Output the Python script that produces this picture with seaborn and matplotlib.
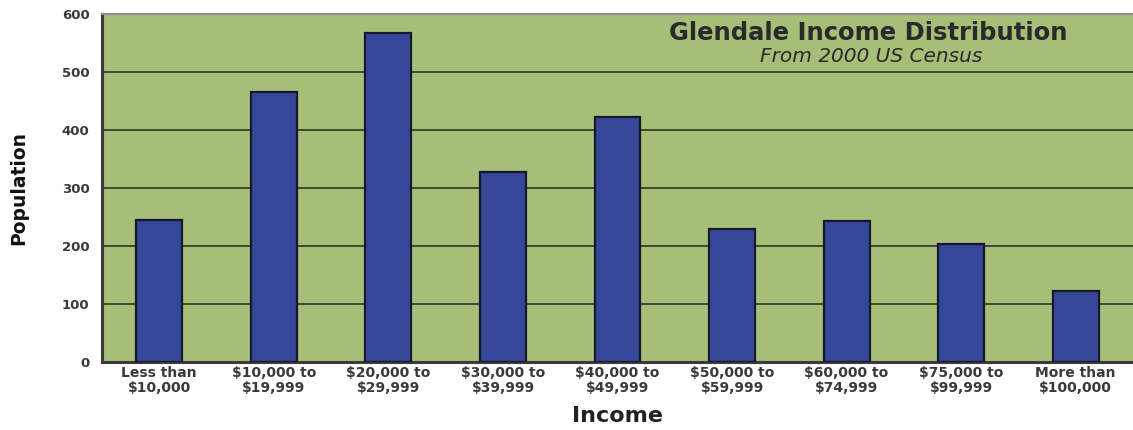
import matplotlib
matplotlib.use("Agg")
import matplotlib.pyplot as plt
import seaborn as sns
import pandas as pd

# ---- data ----
categories = ["Less than\n$10,000", "$10,000 to\n$19,999", "$20,000 to\n$29,999",
              "$30,000 to\n$39,999", "$40,000 to\n$49,999", "$50,000 to\n$59,999",
              "$60,000 to\n$74,999", "$75,000 to\n$99,999", "More than\n$100,000"]
population = [245, 466, 567, 327, 423, 230, 243, 204, 123]
y_ticks = [0, 100, 200, 300, 400, 500, 600]
title_text = "Glendale Income Distribution"
subtitle_text = "From 2000 US Census"
x_label = "Income"
y_label = "Population"

sns.set_theme(style="white")
plt.rcParams["font.family"] = ["DejaVu Sans"]

df = pd.DataFrame({"income": categories, "population": population})

fig = plt.figure(figsize=(11.33, 4.30), dpi=100)
ax = fig.add_axes([102 / 1133, 1 - 362 / 430, 1 - 102 / 1133, (362 - 14) / 430])
ax.set_facecolor("#a6be78")

sns.barplot(data=df, x="income", y="population", color="#36479a", width=0.4,
            edgecolor="#15172a", linewidth=1.6, saturation=1, ax=ax, zorder=3)

ax.set_ylim(0, 600)
ax.set_xlim(-0.5, len(categories) - 0.5)
ax.set_yticks(y_ticks)
ax.set_yticklabels([str(t) for t in y_ticks], fontsize=9.5, fontweight="bold", color="#3a3a3a")
ax.tick_params(axis="y", length=0, pad=9)
ax.tick_params(axis="x", length=0, pad=3)
for lbl in ax.get_xticklabels():
    lbl.set_fontsize(10)
    lbl.set_fontweight("bold")
    lbl.set_color("#3a3a3a")
    lbl.set_linespacing(1.05)

ax.yaxis.grid(True, color="#3d4a32", linewidth=1.4, zorder=1)
ax.xaxis.grid(False)
ax.set_axisbelow(True)

for side in ["left", "bottom"]:
    ax.spines[side].set_color("#3a3a3a")
    ax.spines[side].set_linewidth(2.2)
ax.spines["top"].set_color("#8a8a8a")
ax.spines["top"].set_linewidth(1.5)
ax.spines["right"].set_visible(False)

ax.set_xlabel(x_label, fontsize=16, fontweight="bold", color="#222222", labelpad=8)
ax.set_ylabel(y_label, fontsize=13.5, fontweight="bold", color="#111111", labelpad=24)

fig.text(868 / 1133, 1 - 33 / 430, title_text, ha="center", va="center",
         fontsize=17.5, fontweight="bold", color="#2a2a2a")
fig.text(871 / 1133, 1 - 56 / 430, subtitle_text, ha="center", va="center",
         fontsize=14.5, style="italic", color="#2a2a2a")

fig.savefig("out.png", dpi=100, facecolor="white")
